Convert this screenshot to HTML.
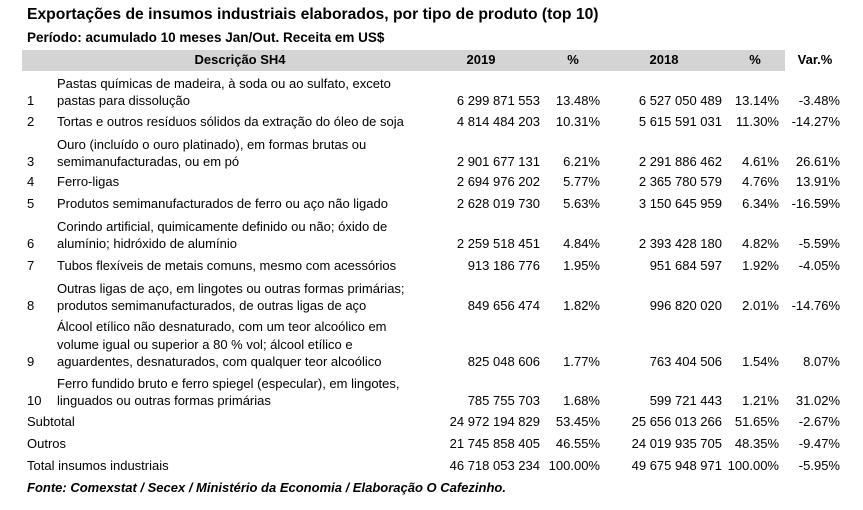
<!DOCTYPE html>
<html><head><meta charset="utf-8"><style>
body{margin:0;width:863px;height:510px;background:#fff;position:relative;overflow:hidden;font-family:"Liberation Sans",sans-serif;color:#000}
.t{position:absolute;white-space:nowrap;font-size:13px;line-height:16px}
.l{transform-origin:left center;transform:scaleX(1.0)}
.r{transform-origin:right center;transform:scaleX(1.0)}
.c{transform-origin:center center;transform:scaleX(1.0)}
</style></head><body>
<div class="t l" style="left:27px;top:5px;font-size:16px;font-weight:bold;line-height:20px;transform:scaleX(0.98)">Exportações de insumos industriais elaborados, por tipo de produto (top 10)</div>
<div class="t l" style="left:27px;top:28px;font-size:14px;font-weight:bold;line-height:18px;transform:scaleX(0.965)">Período: acumulado 10 meses Jan/Out. Receita em US$</div>
<div style="position:absolute;left:22px;top:50px;width:763px;height:21px;background:#d4d4d4"></div>
<div id="root"></div>
<div class="t" style="left:27px;top:480px;font-weight:bold;font-style:italic;font-size:13px">Fonte: Comexstat / Secex / Ministério da Economia / Elaboração O Cafezinho.</div>
<script>
const descs=[["Pastas químicas de madeira, à soda ou ao sulfato, exceto","pastas para dissolução"],["Tortas e outros resíduos sólidos da extração do óleo de soja"],["Ouro (incluído o ouro platinado), em formas brutas ou","semimanufacturadas, ou em pó"],["Ferro-ligas"],["Produtos semimanufacturados de ferro ou aço não ligado"],["Corindo artificial, quimicamente definido ou não; óxido de","alumínio; hidróxido de alumínio"],["Tubos flexíveis de metais comuns, mesmo com acessórios"],["Outras ligas de aço, em lingotes ou outras formas primárias;","produtos semimanufacturados, de outras ligas de aço"],["Álcool etílico não desnaturado, com um teor alcoólico em","volume igual ou superior a 80 % vol; álcool etílico e","aguardentes, desnaturados, com qualquer teor alcoólico"],["Ferro fundido bruto e ferro spiegel (especular), em lingotes,","linguados ou outras formas primárias"],["Subtotal"],["Outros"],["Total insumos industriais"]];
const v2019=["6 299 871 553","4 814 484 203","2 901 677 131","2 694 976 202","2 628 019 730","2 259 518 451","913 186 776","849 656 474","825 048 606","785 755 703","24 972 194 829","21 745 858 405","46 718 053 234"];
const p2019=["13.48%","10.31%","6.21%","5.77%","5.63%","4.84%","1.95%","1.82%","1.77%","1.68%","53.45%","46.55%","100.00%"];
const v2018=["6 527 050 489","5 615 591 031","2 291 886 462","2 365 780 579","3 150 645 959","2 393 428 180","951 684 597","996 820 020","763 404 506","599 721 443","25 656 013 266","24 019 935 705","49 675 948 971"];
const p2018=["13.14%","11.30%","4.61%","4.76%","6.34%","4.82%","1.92%","2.01%","1.54%","1.21%","51.65%","48.35%","100.00%"];
const vars=["-3.48%","-14.27%","26.61%","13.91%","-16.59%","-5.59%","-4.05%","-14.76%","8.07%","31.02%","-2.67%","-9.47%","-5.95%"];
const rowY=[101,122,162,182,204,244,266,306,362,401,422,444,466];
const root=document.getElementById('root');
function txt(s,x,y,cls,name,w){const d=document.createElement('div');d.className='t '+cls;d.textContent=s;d.style.top=(y-8)+'px';
if(cls==='r'){d.style.right=(863-x)+'px';}else if(cls==='c'){d.style.left=(x-100)+'px';d.style.width='200px';d.style.textAlign='center';}else d.style.left=x+'px';
if(w)d.style.fontWeight='bold';


root.appendChild(d);return d;}
[["Descrição SH4",240],["2019",481],["%",573],["2018",664],["%",755],["Var.%",815]].forEach(h=>txt(h[0],h[1],60,'c','column-header',true));
descs.forEach((d,i)=>{const y=rowY[i];
if(i<10){txt(String(i+1),27,y,'l','row-number');d.forEach((line,k)=>txt(line,57,y-(d.length-1-k)*17.5,'l','row-description'));}
else txt(d[0],27,y,'l','row-label');
txt(v2019[i],540,y,'r','value-2019');txt(p2019[i],600,y,'r','share-2019');
txt(v2018[i],722,y,'r','value-2018');txt(p2018[i],779,y,'r','share-2018');txt(vars[i],840,y,'r','variation');});
</script>
</body></html>
